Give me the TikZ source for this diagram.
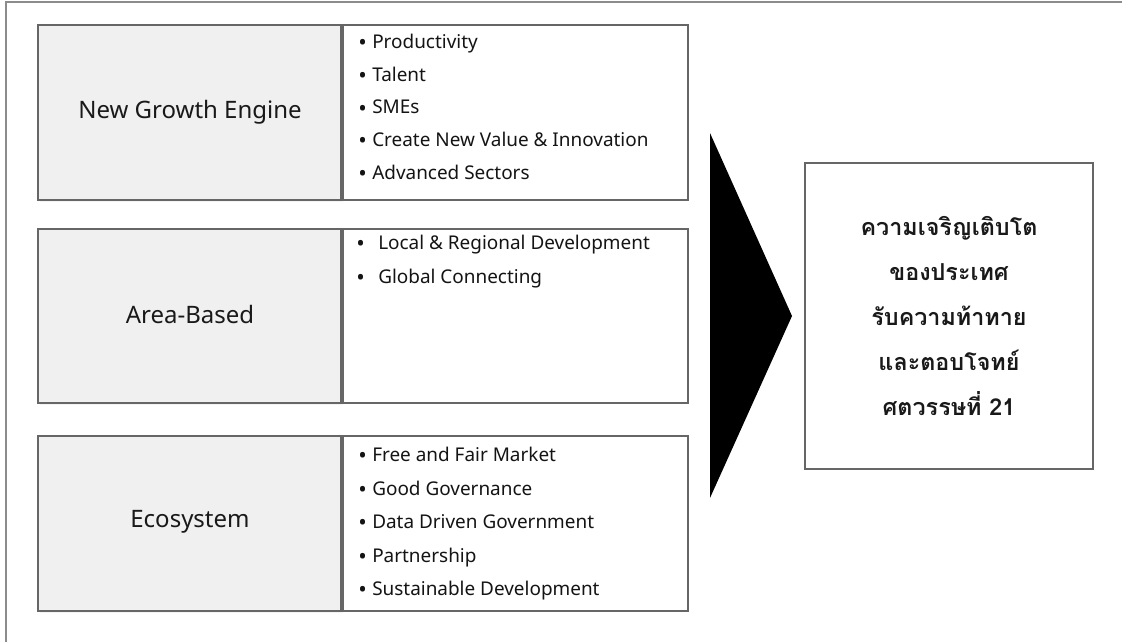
\documentclass[tikz,border=0pt]{standalone}
\usepackage{fontspec}
\usetikzlibrary{shadows}
\setmainfont{Noto Sans}
\newfontfamily\thaifont[Script=Thai]{Loma}
\newcommand{\bul}{\raisebox{-1.6pt}{\fontsize{17}{14}\selectfont•}}
\begin{document}
\begin{tikzpicture}[x=0.75pt,y=-0.75pt,
  framel/.style={draw=black!45,line width=1pt},
  catbox/.style={draw=black!60,fill=black!6,line width=0.9pt,
    drop shadow={shadow xshift=1.5pt,shadow yshift=-1.5pt,fill=black!8}},
  listbox/.style={draw=black!60,fill=white,line width=0.9pt},
  catlabel/.style={font=\fontsize{18}{20}\selectfont,text=black!90},
  item/.style={anchor=base west,inner sep=0pt,font=\fontsize{14.2}{16}\selectfont,text=black!92},
  resbox/.style={draw=black!60,fill=white,line width=0.9pt},
  restext/.style={font=\thaifont\bfseries\fontsize{17.5}{33.75}\selectfont,align=center,text=black!90}
]
\useasboundingbox (0,0) rectangle (1122,642);
\fill[white] (0,0) rectangle (1122,642);
% outer frame (top and left edges visible)
\draw[framel] (6,645) -- (6,2) -- (1125,2);

% category boxes
\draw[catbox] (38,25) rectangle (341,200);
\draw[catbox] (38,229) rectangle (341,403);
\draw[catbox] (38,436) rectangle (341,611);
\node[catlabel] (ng) at (190,112) {New Growth Engine};
\node[catlabel] (ab) at (190,314) {Area-Based};
\node[catlabel] (ec) at (190,522) {Ecosystem};

% list boxes
\draw[listbox] (343,25) rectangle (688,200);
\draw[listbox] (343,229) rectangle (688,403);
\draw[listbox] (343,436) rectangle (688,611);

\foreach \t [count=\i] in {Productivity,Talent,SMEs,Create New Value \& Innovation,Advanced Sectors}
  \node[item] (ngi\i) at (372,{48.5+32.7*(\i-1)}) {\llap{\bul\hspace{4pt}}\t};
\foreach \t [count=\i] in {Local \& Regional Development,Global Connecting}
  \node[item] (abi\i) at (378,{249.5+34*(\i-1)}) {\llap{\bul\hspace{10pt}}\t};
\foreach \t [count=\i] in {Free and Fair Market,Good Governance,Data Driven Government,Partnership,Sustainable Development}
  \node[item] (eci\i) at (372,{461.5+33.5*(\i-1)}) {\llap{\bul\hspace{4pt}}\t};

% big arrow head
\fill[black] (710,133) -- (792,316) -- (710,498) -- cycle;

% result box
\draw[resbox] (805,163) rectangle (1093,469);
\node[restext] (res) at (949,316) {ความเจริญเติบโต\\ของประเทศ\\รับความท้าทาย\\และตอบโจทย์\\ศตวรรษที่ 21};
\end{tikzpicture}
\end{document}
